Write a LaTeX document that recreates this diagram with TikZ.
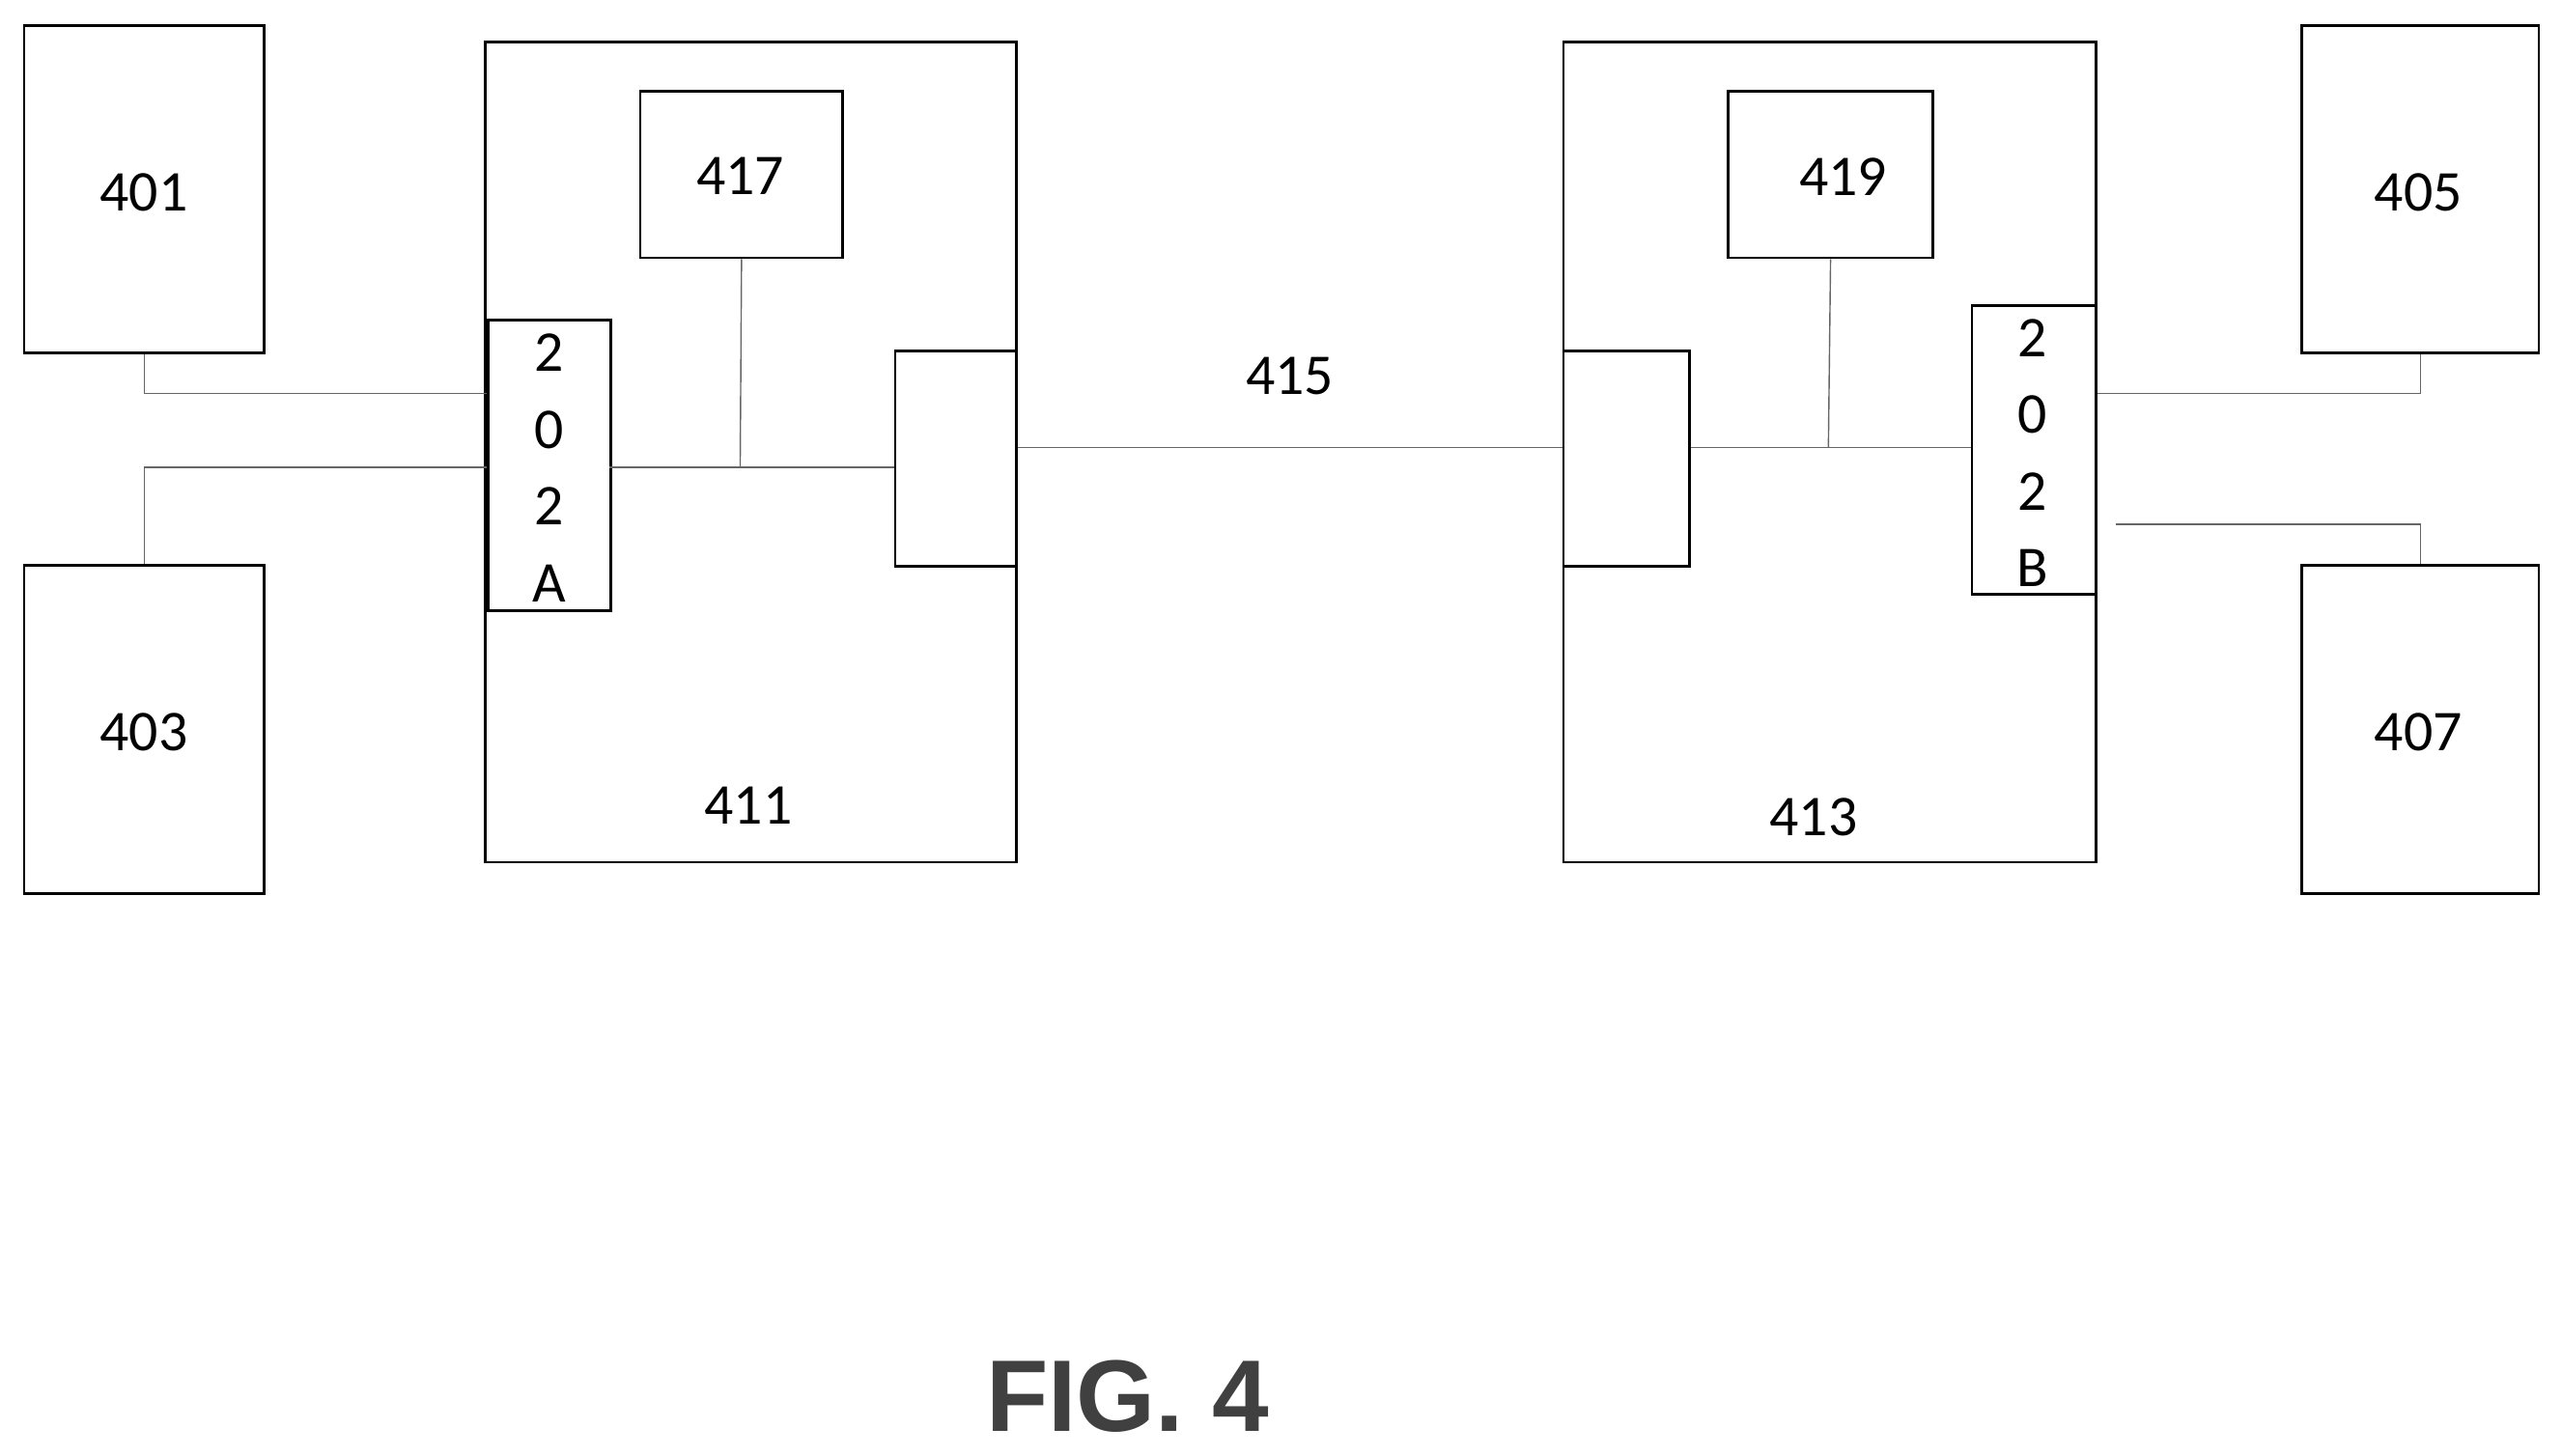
\documentclass[tikz,border=0pt]{standalone}
\usepackage{fontspec}
\setmainfont{Carlito}
\newfontfamily\figfont{Liberation Sans}
\usetikzlibrary{positioning}
\tikzset{
  blk/.style={draw,thick,inner sep=0pt,anchor=north west},
  lbl/.style={font=\fontsize{17}{20}\selectfont},
  wire/.style={draw,gray!80!black,thin}
}
\begin{document}
\begin{tikzpicture}[x=0.01692cm,y=-0.01692cm]
\useasboundingbox (0,0) rectangle (1568,891);

% outer devices
\node[blk,minimum width=147*0.01692cm,minimum height=200*0.01692cm] (d401) at (14,15) {};
\node[blk,minimum width=147*0.01692cm,minimum height=201*0.01692cm] (d403) at (14,345) {};
\node[blk,minimum width=145*0.01692cm,minimum height=200*0.01692cm] (d405) at (1408,15) {};
\node[blk,minimum width=145*0.01692cm,minimum height=201*0.01692cm] (d407) at (1408,345) {};
\node[lbl] at (88,118) {401};
\node[lbl] at (88,448) {403};
\node[lbl] at (1480,118) {405};
\node[lbl] at (1480,448) {407};

% the two units
\node[blk,minimum width=325*0.01692cm,minimum height=502*0.01692cm] (u411) at (296,25) {};
\node[blk,minimum width=326*0.01692cm,minimum height=502*0.01692cm] (u413) at (956,25) {};
\node[lbl] at (458,493) {411};
\node[lbl] at (1110,500) {413};

\node[blk,minimum width=124*0.01692cm,minimum height=102*0.01692cm] (m417) at (391,55) {};
\node[blk,minimum width=125*0.01692cm,minimum height=102*0.01692cm] (m419) at (1057,55) {};
\node[lbl] at (453,108) {417};
\node[lbl] at (1128,108) {419};

\node[blk,minimum width=75*0.01692cm,minimum height=178*0.01692cm] (s202a) at (298,195) {};
\node[blk,minimum width=76*0.01692cm,minimum height=177*0.01692cm] (s202b) at (1206,186) {};
\foreach \t [count=\i] in {2,0,2,A}
  \node[lbl] at (336,216+47*\i-47) {\t};
\foreach \t [count=\i] in {2,0,2,B}
  \node[lbl] at (1244,207+47*\i-47) {\t};

\node[blk,minimum width=74*0.01692cm,minimum height=132*0.01692cm] (p411) at (547,214) {};
\node[blk,minimum width=77*0.01692cm,minimum height=132*0.01692cm] (p413) at (956,214) {};

% wires
\coordinate (a1) at (298,241);
\coordinate (a2) at (298,286);
\draw[wire] (d401.south) |- (a1);
\draw[wire] (d403.north) |- (a2);
\draw[wire] (373,286) -- (p411.west |- 0,286);
\draw[wire] (m417.south) -- (453,286);
\draw[wire] (p411.east |- 0,274) -- node[lbl,black,above=12pt] {415} (p413.west |- 0,274);
\draw[wire] (p413.east |- 0,274) -- (s202b.west |- 0,274);
\draw[wire] (m419.south) -- (1119,274);
\draw[wire] (s202b.east |- 0,241) -| (d405.south);
\draw[wire] (1295,321) -| (d407.north);

\node[font=\figfont\bfseries\fontsize{30}{34}\selectfont,text=black!75] (fig) at (690,855) {FIG. 4};
\end{tikzpicture}
\end{document}
